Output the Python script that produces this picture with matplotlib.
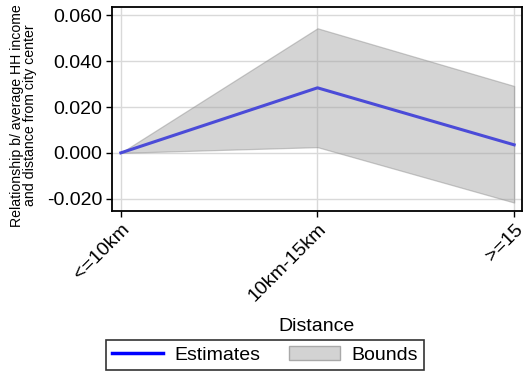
import matplotlib
matplotlib.use("Agg")
import matplotlib.pyplot as plt
from matplotlib.lines import Line2D
from matplotlib.patches import Patch

plt.rcParams['font.family'] = ['Liberation Sans', 'DejaVu Sans']

categories = ["<=10km", "10km-15km", ">=15"]
estimates = [0.0, 0.0284, 0.0035]
upper = [0.0, 0.0544, 0.0292]
lower = [0.0, 0.0025, -0.0217]
yticks = [-0.020, 0.000, 0.020, 0.040, 0.060]

fig = plt.figure(figsize=(5.23, 3.72), dpi=100)
ax = fig.add_axes([112 / 523, 1 - 211 / 372, 410 / 523, 204 / 372])

x = list(range(len(categories)))
ax.grid(True, color='#d9d9d9', linewidth=1.0, zorder=0)
ax.fill_between(x, lower, upper, facecolor='#a0a0a0', alpha=0.45,
                edgecolor='#8c8c8c', linewidth=0.9, zorder=2)
ax.plot(x, estimates, color='#4b4bd8', linewidth=2.2, zorder=3)

ax.set_xlim(-0.045, 2.04)
ax.set_ylim(-0.0254, 0.0637)
ax.set_yticks(yticks)
ax.set_yticklabels([f"{v:.3f}" for v in yticks], fontsize=14)
ax.set_xticks(x)
ax.set_xticklabels(categories, rotation=45, ha='right', rotation_mode='anchor', fontsize=14)
ax.tick_params(axis='both', direction='out', length=4, width=1, color='black', pad=3)
for s in ax.spines.values():
    s.set_linewidth(1.3)
    s.set_color('black')

ax.set_ylabel("Relationship b/ average HH income\nand distance from city center",
              fontsize=10.2, linespacing=0.95)
ax.yaxis.set_label_coords(-0.182, 1 - (115.5 - 7) / 204)
ax.set_xlabel("Distance", fontsize=14)
ax.xaxis.set_label_coords(0.5, 1 - (318 - 7) / 204)

handles = [Line2D([0], [0], color='blue', linewidth=2.5),
           Patch(facecolor='#d3d3d3', edgecolor='#a9a9a9')]
leg = fig.legend(handles, ["Estimates", "Bounds"], loc='center',
                 bbox_to_anchor=(265 / 523, 1 - 355 / 372), ncol=2, fontsize=14,
                 frameon=True, fancybox=False, edgecolor='black',
                 handlelength=2.6, handletextpad=0.6, columnspacing=1.5,
                 borderpad=0.3, borderaxespad=0)
leg.get_frame().set_linewidth(1.2)

fig.savefig("out.png", dpi=100)
